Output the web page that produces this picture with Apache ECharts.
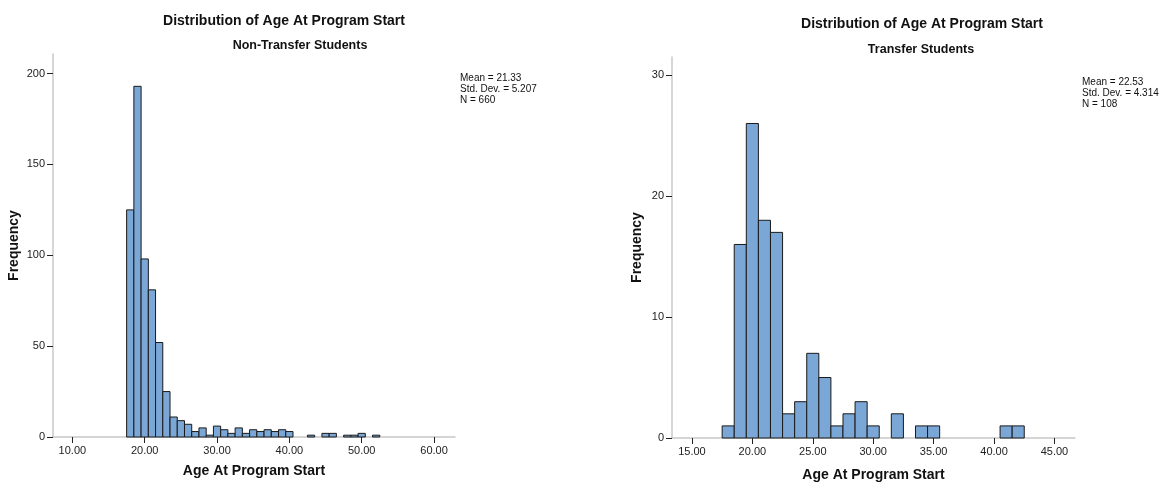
<!DOCTYPE html>
<html><head><meta charset="utf-8">
<script src="https://cdn.jsdelivr.net/npm/echarts@6/dist/echarts.min.js"></script>
<style>html,body{margin:0;padding:0;background:#fff}#c{width:1167px;height:483px}</style>
</head><body><div id="c"></div>
<script>
// Non-transfer students: age bins (width 1, centred on integer ages) and counts
const ntAges   = [18,19,20,21,22,23,24,25,26,27,28,29,30,31,32,33,34,35,36,37,38,39,40,41,42,43,44,45,46,47,48,49,50,51,52];
const ntCounts = [125,193,98,81,52,25,11,9,7,3,5,1,6,4,2,5,2,4,3,4,3,4,3,0,0,1,0,2,2,0,1,1,2,0,1];
// Transfer students
const trAges   = [18,19,20,21,22,23,24,25,26,27,28,29,30,31,32,33,34,35,36,37,38,39,40,41,42];
const trCounts = [1,16,26,18,17,2,3,7,5,1,2,3,1,0,2,0,1,1,0,0,0,0,0,1,1];
// tick labels
const ntXTicks = [10,20,30,40,50,60];
const trXTicks = [15,20,25,30,35,40,45];
const ntYTicks = [0,50,100,150,200];
const trYTicks = [0,10,20,30];
const ntStats = ['Mean = 21.33','Std. Dev. = 5.207','N = 660'];
const trStats = ['Mean = 22.53','Std. Dev. = 4.314','N = 108'];

const FONT = '"Liberation Sans", Arial, sans-serif';
const chart = echarts.init(document.getElementById('c'));

function renderBar(params, api){
  const v = api.value(1);
  if (!v) return null;
  const x = api.value(0);
  const tl = api.coord([x - 0.5, v]);
  const br = api.coord([x + 0.5, 0]);
  return {type:'rect', shape:{x:tl[0], y:tl[1], width:br[0]-tl[0], height:br[1]-tl[1]},
    style:{fill:'#7aa7d6', stroke:'#1a1a1a', lineWidth:1}};
}
function xAxisOf(idx, min, max, ticks, gap){
  return {type:'value', gridIndex:idx, min:min, max:max, splitLine:{show:false},
    axisLine:{show:true, onZero:false, lineStyle:{color:'#c8c8c8', width:1.5}},
    axisTick:{show:true, inside:false, length:6, customValues:ticks, lineStyle:{color:'#222', width:1}},
    axisLabel:{customValues:ticks, color:'#222', fontFamily:FONT, fontSize:11, margin:8,
      formatter:v=>v.toFixed(2)},
    name:'Age At Program Start', nameLocation:'middle', nameGap:gap,
    nameTextStyle:{fontFamily:FONT, fontWeight:'bold', fontSize:14, color:'#111'}};
}
function yAxisOf(idx, max, ticks, gap){
  return {type:'value', gridIndex:idx, min:0, max:max, splitLine:{show:false},
    axisLine:{show:true, lineStyle:{color:'#c8c8c8', width:1.5}},
    axisTick:{show:true, inside:false, length:6, customValues:ticks, lineStyle:{color:'#222', width:1}},
    axisLabel:{customValues:ticks, color:'#222', fontFamily:FONT, fontSize:11, margin:8},
    name:'Frequency', nameLocation:'middle', nameGap:gap, nameRotate:90,
    nameTextStyle:{fontFamily:FONT, fontWeight:'bold', fontSize:14, color:'#111'}};
}
const T = (text, left, top, size, weight, align, lh) => ({text, left, top, textAlign:align, padding:0,
  textStyle:{fontFamily:FONT, fontWeight:weight, fontSize:size, color:'#111', lineHeight:lh}});
chart.setOption({
  animation:false,
  title:[
    T('Distribution of Age At Program Start', 284, 14, 14, 'bold', 'center'),
    T('Non-Transfer Students', 300, 39, 12.5, 'bold', 'center'),
    T('Distribution of Age At Program Start', 922, 17, 14, 'bold', 'center'),
    T('Transfer Students', 921, 43, 12.5, 'bold', 'center'),
    T(ntStats.join('\n'), 460, 73, 10, 'normal', 'left', 11),
    T(trStats.join('\n'), 1082, 77, 10, 'normal', 'left', 11)
  ],
  grid:[
    {left:53, top:54, width:402, height:383, outerBoundsMode:'none', containLabel:false},
    {left:672, top:57, width:403, height:381, outerBoundsMode:'none', containLabel:false}
  ],
  xAxis:[xAxisOf(0, 7.32, 62.9, ntXTicks, 27), xAxisOf(1, 13.35, 46.7, trXTicks, 30)],
  yAxis:[yAxisOf(0, 210.8, ntYTicks, 32), yAxisOf(1, 31.5, trYTicks, 28)],
  series:[
    {type:'custom', xAxisIndex:0, yAxisIndex:0, renderItem:renderBar, clip:false,
      encode:{x:0, y:1}, data:ntAges.map((a,i)=>[a, ntCounts[i]])},
    {type:'custom', xAxisIndex:1, yAxisIndex:1, renderItem:renderBar, clip:false,
      encode:{x:0, y:1}, data:trAges.map((a,i)=>[a, trCounts[i]])}
  ]
});
</script></body></html>
